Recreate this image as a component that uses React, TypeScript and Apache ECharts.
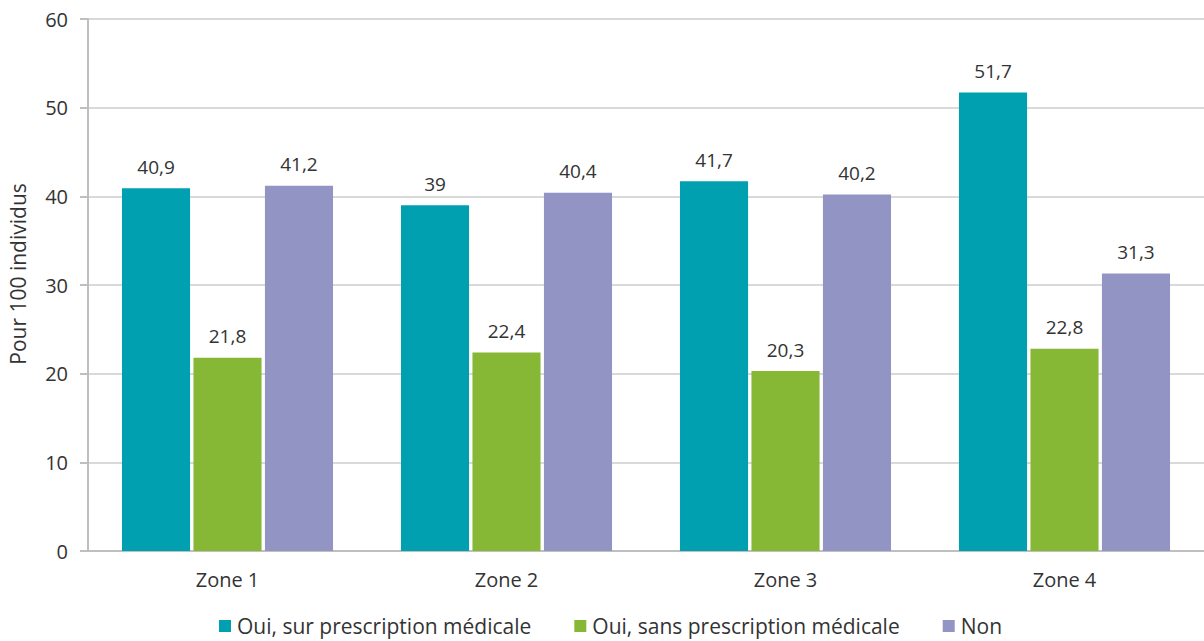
import React, { useEffect, useRef } from "react";
import * as echarts from "echarts";

const categories = ["Zone 1", "Zone 2", "Zone 3", "Zone 4"];
const seriesNames = [
  "Oui, sur prescription médicale",
  "Oui, sans prescription médicale",
  "Non",
];
const surPrescription = [40.9, 39, 41.7, 51.7];
const sansPrescription = [21.8, 22.4, 20.3, 22.8];
const non = [41.2, 40.4, 40.2, 31.3];
const colors = ["#00a0b0", "#86b735", "#9295c4"];

const FONT = "'Open Sans', sans-serif";

export default function App() {
  const ref = useRef<HTMLDivElement>(null);
  useEffect(() => {
    if (!ref.current) return;
    const chart = echarts.init(ref.current, undefined, { renderer: "svg" });
    const values = [surPrescription, sansPrescription, non];
    chart.setOption({
      animation: false,
      textStyle: { fontFamily: FONT },
      grid: {
        left: 88,
        right: 0,
        top: 19,
        bottom: 90,
        containLabel: false,
        outerBoundsMode: "none",
      },
      legend: {
        top: 609,
        left: 214,
        itemWidth: 12,
        itemHeight: 12,
        itemGap: 43,
        icon: "rect",
        textStyle: {
          fontFamily: FONT,
          fontSize: 21,
          lineHeight: 24,
          color: "#333",
          padding: [0, 0, 0, 1],
        },
        data: seriesNames,
      },
      xAxis: {
        type: "category",
        data: categories,
        axisLine: { lineStyle: { color: "#bfbfbf", width: 2 } },
        axisTick: { show: false },
        axisLabel: { fontFamily: FONT, fontSize: 20, color: "#333", margin: 18 },
      },
      yAxis: {
        type: "value",
        min: 0,
        max: 60,
        interval: 10,
        name: "Pour 100 individus",
        nameLocation: "middle",
        nameGap: 60,
        nameRotate: 90,
        nameTextStyle: {
          fontFamily: FONT,
          fontSize: 21,
          color: "#333",
          padding: [0, 0, 0, 22],
        },
        axisLine: { show: true, lineStyle: { color: "#bfbfbf", width: 2 } },
        axisTick: { show: true, length: 8, lineStyle: { color: "#bfbfbf", width: 2 } },
        axisLabel: { fontFamily: FONT, fontSize: 20, color: "#333", margin: 20 },
        splitLine: { lineStyle: { color: "#d9d9d9", width: 2 } },
      },
      series: values.map((v, i) => ({
        name: seriesNames[i],
        type: "bar",
        data: v,
        barWidth: "24.4%",
        barGap: "5%",
        itemStyle: { color: colors[i] },
        label: {
          show: true,
          position: "top",
          distance: 12,
          fontFamily: FONT,
          fontSize: 19,
          color: "#333",
          formatter: (p: any) => String(p.value).replace(".", ","),
        },
      })),
    });
    return () => chart.dispose();
  }, []);
  return (
    <div
      ref={ref}
      style={{ position: "absolute", left: 0, top: 0, width: 1204, height: 641 }}
    />
  );
}
